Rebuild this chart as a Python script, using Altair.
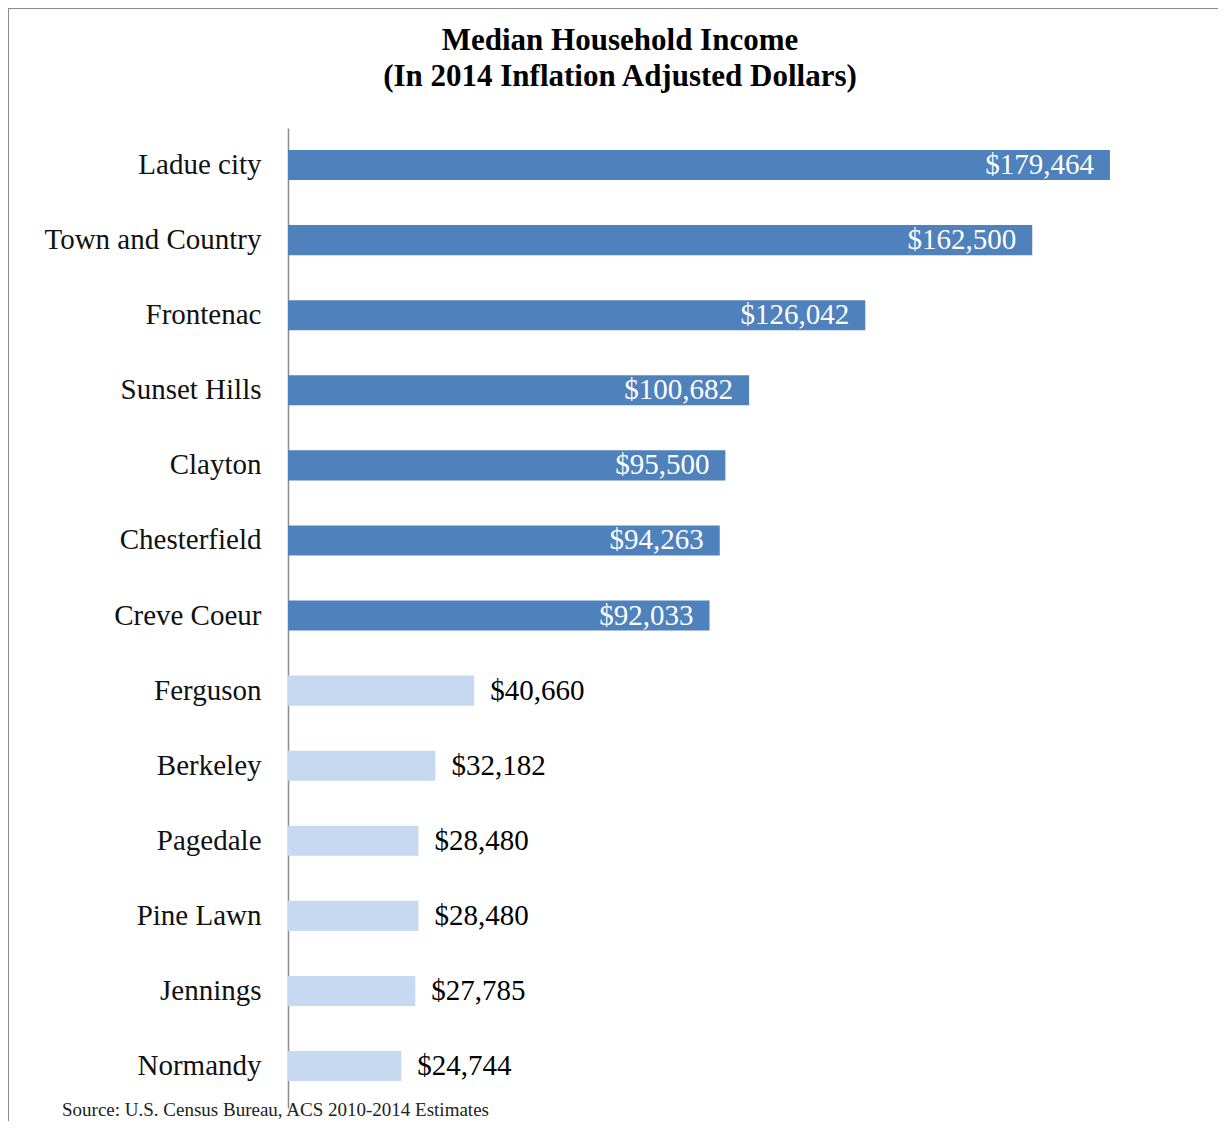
import altair as alt
import pandas as pd

cities = ["Ladue city", "Town and Country", "Frontenac", "Sunset Hills", "Clayton",
          "Chesterfield", "Creve Coeur", "Ferguson", "Berkeley", "Pagedale",
          "Pine Lawn", "Jennings", "Normandy"]
incomes = [179464, 162500, 126042, 100682, 95500, 94263, 92033,
           40660, 32182, 28480, 28480, 27785, 24744]
groups = ["high"] * 7 + ["low"] * 6
title_lines = ["Median Household Income", "(In 2014 Inflation Adjusted Dollars)"]
source_text = "Source: U.S. Census Bureau, ACS 2010-2014 Estimates"

df = pd.DataFrame({"city": cities, "income": incomes, "group": groups})
df["label"] = ["${:,}".format(v) for v in incomes]

FONT = "Liberation Serif"
W, H = 916, 980

y_enc = alt.Y("city:N", sort=cities, title=None,
              scale=alt.Scale(paddingInner=0.6, paddingOuter=0.326, align=0.45),
              axis=alt.Axis(labelFont=FONT, labelFontSize=29, labelColor="#111",
                            labelLimit=400,
                            ticks=False, labelPadding=27, domainColor="#8c8c8c",
                            domainWidth=1.5, grid=False))
x_enc = alt.X("income:Q", title=None, axis=None,
              scale=alt.Scale(domain=[0, 200000], nice=False))

base = alt.Chart(df)

bars = base.mark_bar().encode(
    x=x_enc, y=y_enc,
    color=alt.Color("group:N", legend=None,
                    scale=alt.Scale(domain=["high", "low"], range=["#4F81BD", "#C6D9F1"])),
)

lab_hi = base.transform_filter(alt.datum.group == "high").mark_text(
    align="right", baseline="middle", dx=-16, font=FONT, fontSize=29, color="white"
).encode(x=x_enc, y=y_enc, text="label:N")

lab_lo = base.transform_filter(alt.datum.group == "low").mark_text(
    align="left", baseline="middle", dx=16, font=FONT, fontSize=29, color="black"
).encode(x=x_enc, y=y_enc, text="label:N")

tdf = pd.DataFrame({"t": title_lines, "yy": [-87, -51]})
title = alt.Chart(tdf).mark_text(
    align="center", baseline="middle", font=FONT, fontSize=31, fontWeight="bold", color="black"
).encode(x=alt.value(332), y=alt.Y("yy:Q", scale=None), text="t:N")

sdf = pd.DataFrame({"t": [source_text]})
source = alt.Chart(sdf).mark_text(
    align="left", baseline="alphabetic", font=FONT, fontSize=19, color="#222"
).encode(x=alt.value(-226), y=alt.value(988), text="t:N")

frame_left = alt.Chart(sdf).mark_rule(color="#8c8c8c", strokeWidth=2, clip=False).encode(
    x=alt.value(-280), y=alt.value(-120), y2=alt.value(H + 20))
frame_top = alt.Chart(sdf).mark_rule(color="#8c8c8c", strokeWidth=2, clip=False).encode(
    x=alt.value(-281), x2=alt.value(W + 20), y=alt.value(-120))

chart = alt.layer(bars, lab_hi, lab_lo, title, source, frame_left, frame_top).properties(
    width=W, height=H,
    autosize=alt.AutoSizeParams(type="none"),
    padding={"left": 280, "top": 120, "right": 14, "bottom": 13},
).configure(background="white").configure_view(stroke=None, strokeWidth=0)

chart.save("out.html", embed_options={"renderer": "svg", "actions": False})
